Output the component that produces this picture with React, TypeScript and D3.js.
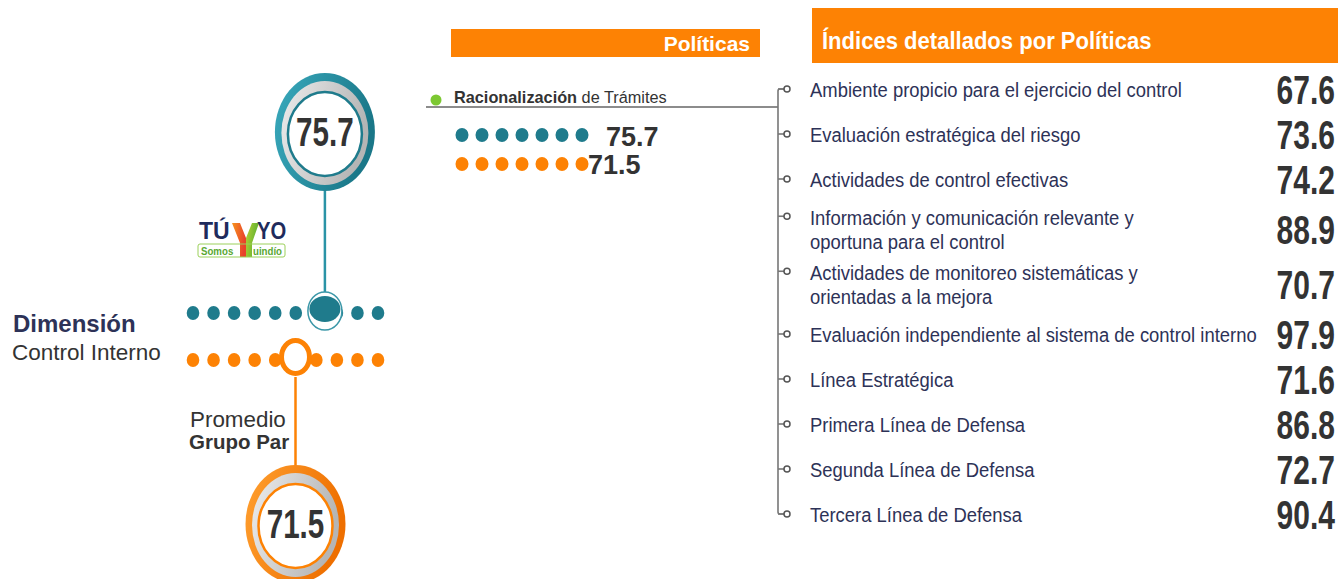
import React, { useEffect, useRef } from 'react';
import * as d3 from 'd3';

const WIDTH = 1338;
const HEIGHT = 579;

// main scores
const entityScore = 75.7; // entity, teal
const peerScore = 71.5; // peer group average, orange

// dots drawn along the left rows
const dotTicks = [10, 20, 30, 40, 50, 60, 70, 80, 90, 100];

// policies panel
const policyBold = ['Racionalización'];
const policyRest = [' de Trámites'];
const policyEntity = [75.7];
const policyPeer = [71.5];
const policyDots = [1, 2, 3, 4, 5, 6, 7];

// detailed indices
const indexLabels = [
  ['Ambiente propicio para el ejercicio del control'],
  ['Evaluación estratégica del riesgo'],
  ['Actividades de control efectivas'],
  ['Información y comunicación relevante y', 'oportuna para el control'],
  ['Actividades de monitoreo sistemáticas y', 'orientadas a la mejora'],
  ['Evaluación independiente al sistema de control interno'],
  ['Línea Estratégica'],
  ['Primera Línea de Defensa'],
  ['Segunda Línea de Defensa'],
  ['Tercera Línea de Defensa'],
];
const indexValues = [67.6, 73.6, 74.2, 88.9, 70.7, 97.9, 71.6, 86.8, 72.7, 90.4];

const TEAL = '#1f7b8c';
const ORANGE = '#fd8204';
const NAVY = '#2d3257';
const DARK = '#333333';
const SANS = "'Liberation Sans', Arial, sans-serif";

const App = () => {
  const ref = useRef<SVGSVGElement>(null);

  useEffect(() => {
    const svg = d3.select(ref.current);
    svg.selectAll('*').remove();

    const defs = svg.append('defs');
    const grad = (id: string, a: string, b: string) => {
      const g = defs.append('linearGradient').attr('id', id).attr('x1', 0).attr('x2', 1).attr('y1', 0).attr('y2', 0.3);
      g.append('stop').attr('offset', '0%').attr('stop-color', a);
      g.append('stop').attr('offset', '100%').attr('stop-color', b);
    };
    grad('tealRing', '#3aaabd', '#1a7788');
    grad('orangeRing', '#ffa030', '#ee6f00');
    grad('grayRing', '#ececec', '#b5b5b5');
    grad('leafL', '#f7941d', '#e8412c');
    grad('leafR', '#b5d334', '#5cae32');

    // plain text
    const t = (x: number, y: number, s: string, size: number, weight: number, fill: string) =>
      svg.append('text').attr('x', x).attr('y', y).text(s)
        .style('font-family', SANS).style('font-size', `${size}px`).style('font-weight', weight).attr('fill', fill);
    // condensed text (no narrow face installed, so squeeze horizontally)
    const nt = (parent: any, x: number, y: number, s: string, size: number, weight: number, fill: string, sx: number, anchor = 'start') =>
      parent.append('text').attr('transform', `translate(${x},${y}) scale(${sx},1)`).attr('text-anchor', anchor).text(s)
        .style('font-family', SANS).style('font-size', `${size}px`).style('font-weight', weight).attr('fill', fill);

    // marker / badge horizontal position
    const xMark = d3.scaleLinear().domain([70, 80]).range([285, 355]);
    const xDot = d3.scalePoint<number>().domain(dotTicks).range([193, 378]);

    const tealRowY = 313;
    const orangeRowY = 360;

    const badge = (cx: number, cy: number, ring: string, stroke: string, value: number) => {
      const g = svg.append('g');
      g.append('ellipse').attr('cx', cx).attr('cy', cy).attr('rx', 50).attr('ry', 59).attr('fill', `url(#${ring})`);
      g.append('ellipse').attr('cx', cx).attr('cy', cy + 1).attr('rx', 43.5).attr('ry', 52).attr('fill', 'url(#grayRing)');
      g.append('ellipse').attr('cx', cx).attr('cy', cy + 2).attr('rx', 37).attr('ry', 42)
        .attr('fill', '#fff').attr('stroke', stroke).attr('stroke-width', 2.5);
      nt(g, cx, cy + 14, value.toFixed(1), 40, 700, DARK, 0.74, 'middle');
    };

    // connecting lines
    const xe = xMark(entityScore);
    const xp = xMark(peerScore);
    svg.append('line').attr('x1', xe).attr('x2', xe).attr('y1', 185).attr('y2', 292)
      .attr('stroke', '#2a93a6').attr('stroke-width', 2.5);
    svg.append('line').attr('x1', xp).attr('x2', xp).attr('y1', 377).attr('y2', 470)
      .attr('stroke', ORANGE).attr('stroke-width', 2.5);

    badge(xe, 132, 'tealRing', TEAL, entityScore);
    badge(xp, 524, 'orangeRing', ORANGE, peerScore);

    // dot rows
    svg.append('g').selectAll('ellipse').data(dotTicks).enter().append('ellipse')
      .attr('cx', d => xDot(d) as number).attr('cy', tealRowY).attr('rx', 6.3).attr('ry', 7).attr('fill', TEAL);
    svg.append('g').selectAll('ellipse').data(dotTicks).enter().append('ellipse')
      .attr('cx', d => xDot(d) as number).attr('cy', orangeRowY).attr('rx', 6.3).attr('ry', 7).attr('fill', ORANGE);

    // row markers
    svg.append('ellipse').attr('cx', xe).attr('cy', 311).attr('rx', 17).attr('ry', 19)
      .attr('fill', '#fff').attr('stroke', '#3b97a8').attr('stroke-width', 1.5);
    svg.append('ellipse').attr('cx', xe).attr('cy', 309).attr('rx', 15.5).attr('ry', 13).attr('fill', TEAL);
    svg.append('ellipse').attr('cx', xp).attr('cy', 357).attr('rx', 14).attr('ry', 16.5)
      .attr('fill', '#fff').attr('stroke', ORANGE).attr('stroke-width', 5);

    // left labels
    t(13, 332, 'Dimensión', 24, 700, NAVY);
    t(12, 360, 'Control Interno', 22.5, 400, DARK);
    const peerLbl = svg.append('text').style('font-family', SANS).attr('fill', DARK);
    peerLbl.append('tspan').attr('x', 190).attr('y', 427).style('font-size', '22.4px').text('Promedio');
    peerLbl.append('tspan').attr('x', 189).attr('y', 449).style('font-size', '20.5px').style('font-weight', 700).text('Grupo Par');

    // logo
    t(199, 239, 'TÚ', 23, 700, '#1f2b5c');
    svg.append('path').attr('d', 'M232,223 L240,223 L246,238 L246,257 L240,257 L240,243 Z').attr('fill', 'url(#leafL)');
    svg.append('path').attr('d', 'M259,223 L252,223 L246,238 L246,257 L252,257 L252,243 Z').attr('fill', 'url(#leafR)');
    nt(svg, 257, 239, 'YO', 23, 700, '#1f2b5c', 0.88);
    svg.append('rect').attr('x', 198).attr('y', 244).attr('width', 87).attr('height', 13).attr('rx', 2)
      .attr('fill', 'none').attr('stroke', '#9bd05a').attr('stroke-width', 1);
    nt(svg, 201, 255, 'Somos', 11, 700, '#5aa832', 0.88);
    nt(svg, 253, 255, 'uindío', 11, 700, '#5aa832', 0.88);

    // Políticas header
    svg.append('rect').attr('x', 451).attr('y', 29).attr('width', 309).attr('height', 28).attr('fill', ORANGE);
    t(750, 51, 'Políticas', 21, 700, '#fff').attr('text-anchor', 'end');

    // policy item
    const xPol = d3.scalePoint<number>().domain(policyDots).range([462, 582]);
    policyBold.forEach((name, i) => {
      svg.append('circle').attr('cx', 436).attr('cy', 100).attr('r', 5.5).attr('fill', '#7cc832');
      const lbl = t(454, 103, '', 16.3, 400, DARK);
      lbl.append('tspan').style('font-weight', 700).text(name);
      lbl.append('tspan').text(policyRest[i]);
      svg.append('line').attr('x1', 426).attr('x2', 778).attr('y1', 107).attr('y2', 107)
        .attr('stroke', '#666').attr('stroke-width', 1.5);

      svg.append('g').selectAll('ellipse').data(policyDots).enter().append('ellipse')
        .attr('cx', d => xPol(d) as number).attr('cy', 135).attr('rx', 6.5).attr('ry', 7).attr('fill', TEAL);
      svg.append('g').selectAll('ellipse').data(policyDots).enter().append('ellipse')
        .attr('cx', d => xPol(d) as number).attr('cy', 164).attr('rx', 6.5).attr('ry', 7).attr('fill', ORANGE);
      const last = xPol(policyDots[policyDots.length - 1]) as number;
      t(last + 24, 146, policyEntity[i].toFixed(1), 27, 700, DARK);
      t(last + 6, 174, policyPeer[i].toFixed(1), 27, 700, DARK);
    });

    // index header
    svg.append('rect').attr('x', 812).attr('y', 8).attr('width', WIDTH - 812).attr('height', 55).attr('fill', ORANGE);
    nt(svg, 822, 49, 'Índices detallados por Políticas', 24.5, 700, '#fff', 0.9);

    // index list: cumulative layout by line count
    const rowH = (n: number) => 45 + 10 * (n - 1);
    const centers: number[] = [];
    indexLabels.forEach((lines, i) => {
      centers.push(i === 0 ? 90 : centers[i - 1] + (rowH(indexLabels[i - 1].length) + rowH(lines.length)) / 2);
    });

    const lineGap = 23.5;
    const bx = 778;
    const tickY = centers.map((c, i) => (indexLabels[i].length > 1 ? c - lineGap / 2 - 2 : c - 1));
    const top = tickY[0];
    const bottom = tickY[tickY.length - 1];
    svg.append('path')
      .attr('d', `M${bx + 6},${top} L${bx + 2},${top} Q${bx},${top} ${bx},${top + 2} L${bx},${bottom - 2} Q${bx},${bottom} ${bx + 2},${bottom} L${bx + 6},${bottom}`)
      .attr('fill', 'none').attr('stroke', '#777').attr('stroke-width', 1.6);

    const rows = svg.append('g').selectAll('g').data(indexLabels).enter().append('g');
    rows.append('line').attr('x1', bx).attr('x2', bx + 6).attr('y1', (d, i) => tickY[i]).attr('y2', (d, i) => tickY[i])
      .attr('stroke', '#777').attr('stroke-width', 1.6);
    rows.append('circle').attr('cx', bx + 9).attr('cy', (d, i) => tickY[i]).attr('r', 3)
      .attr('fill', '#fff').attr('stroke', '#555').attr('stroke-width', 1.5);
    rows.each(function (lines, i) {
      const g = d3.select(this);
      const c = centers[i];
      const y0 = lines.length > 1 ? c - lineGap / 2 : c;
      const label = nt(g, 810, y0 + 7, '', 21, 400, NAVY, 0.878);
      lines.forEach((line, j) => {
        label.append('tspan').attr('x', 0).attr('y', lineGap * j).text(line);
      });
      nt(g, 1335, c + 14, indexValues[i].toFixed(1), 40, 700, DARK, 0.75, 'end');
    });
  }, []);

  return (
    <svg ref={ref} width={WIDTH} height={HEIGHT}
      style={{ position: 'absolute', left: 0, top: 0, background: '#fff' }} />
  );
};

export default App;
